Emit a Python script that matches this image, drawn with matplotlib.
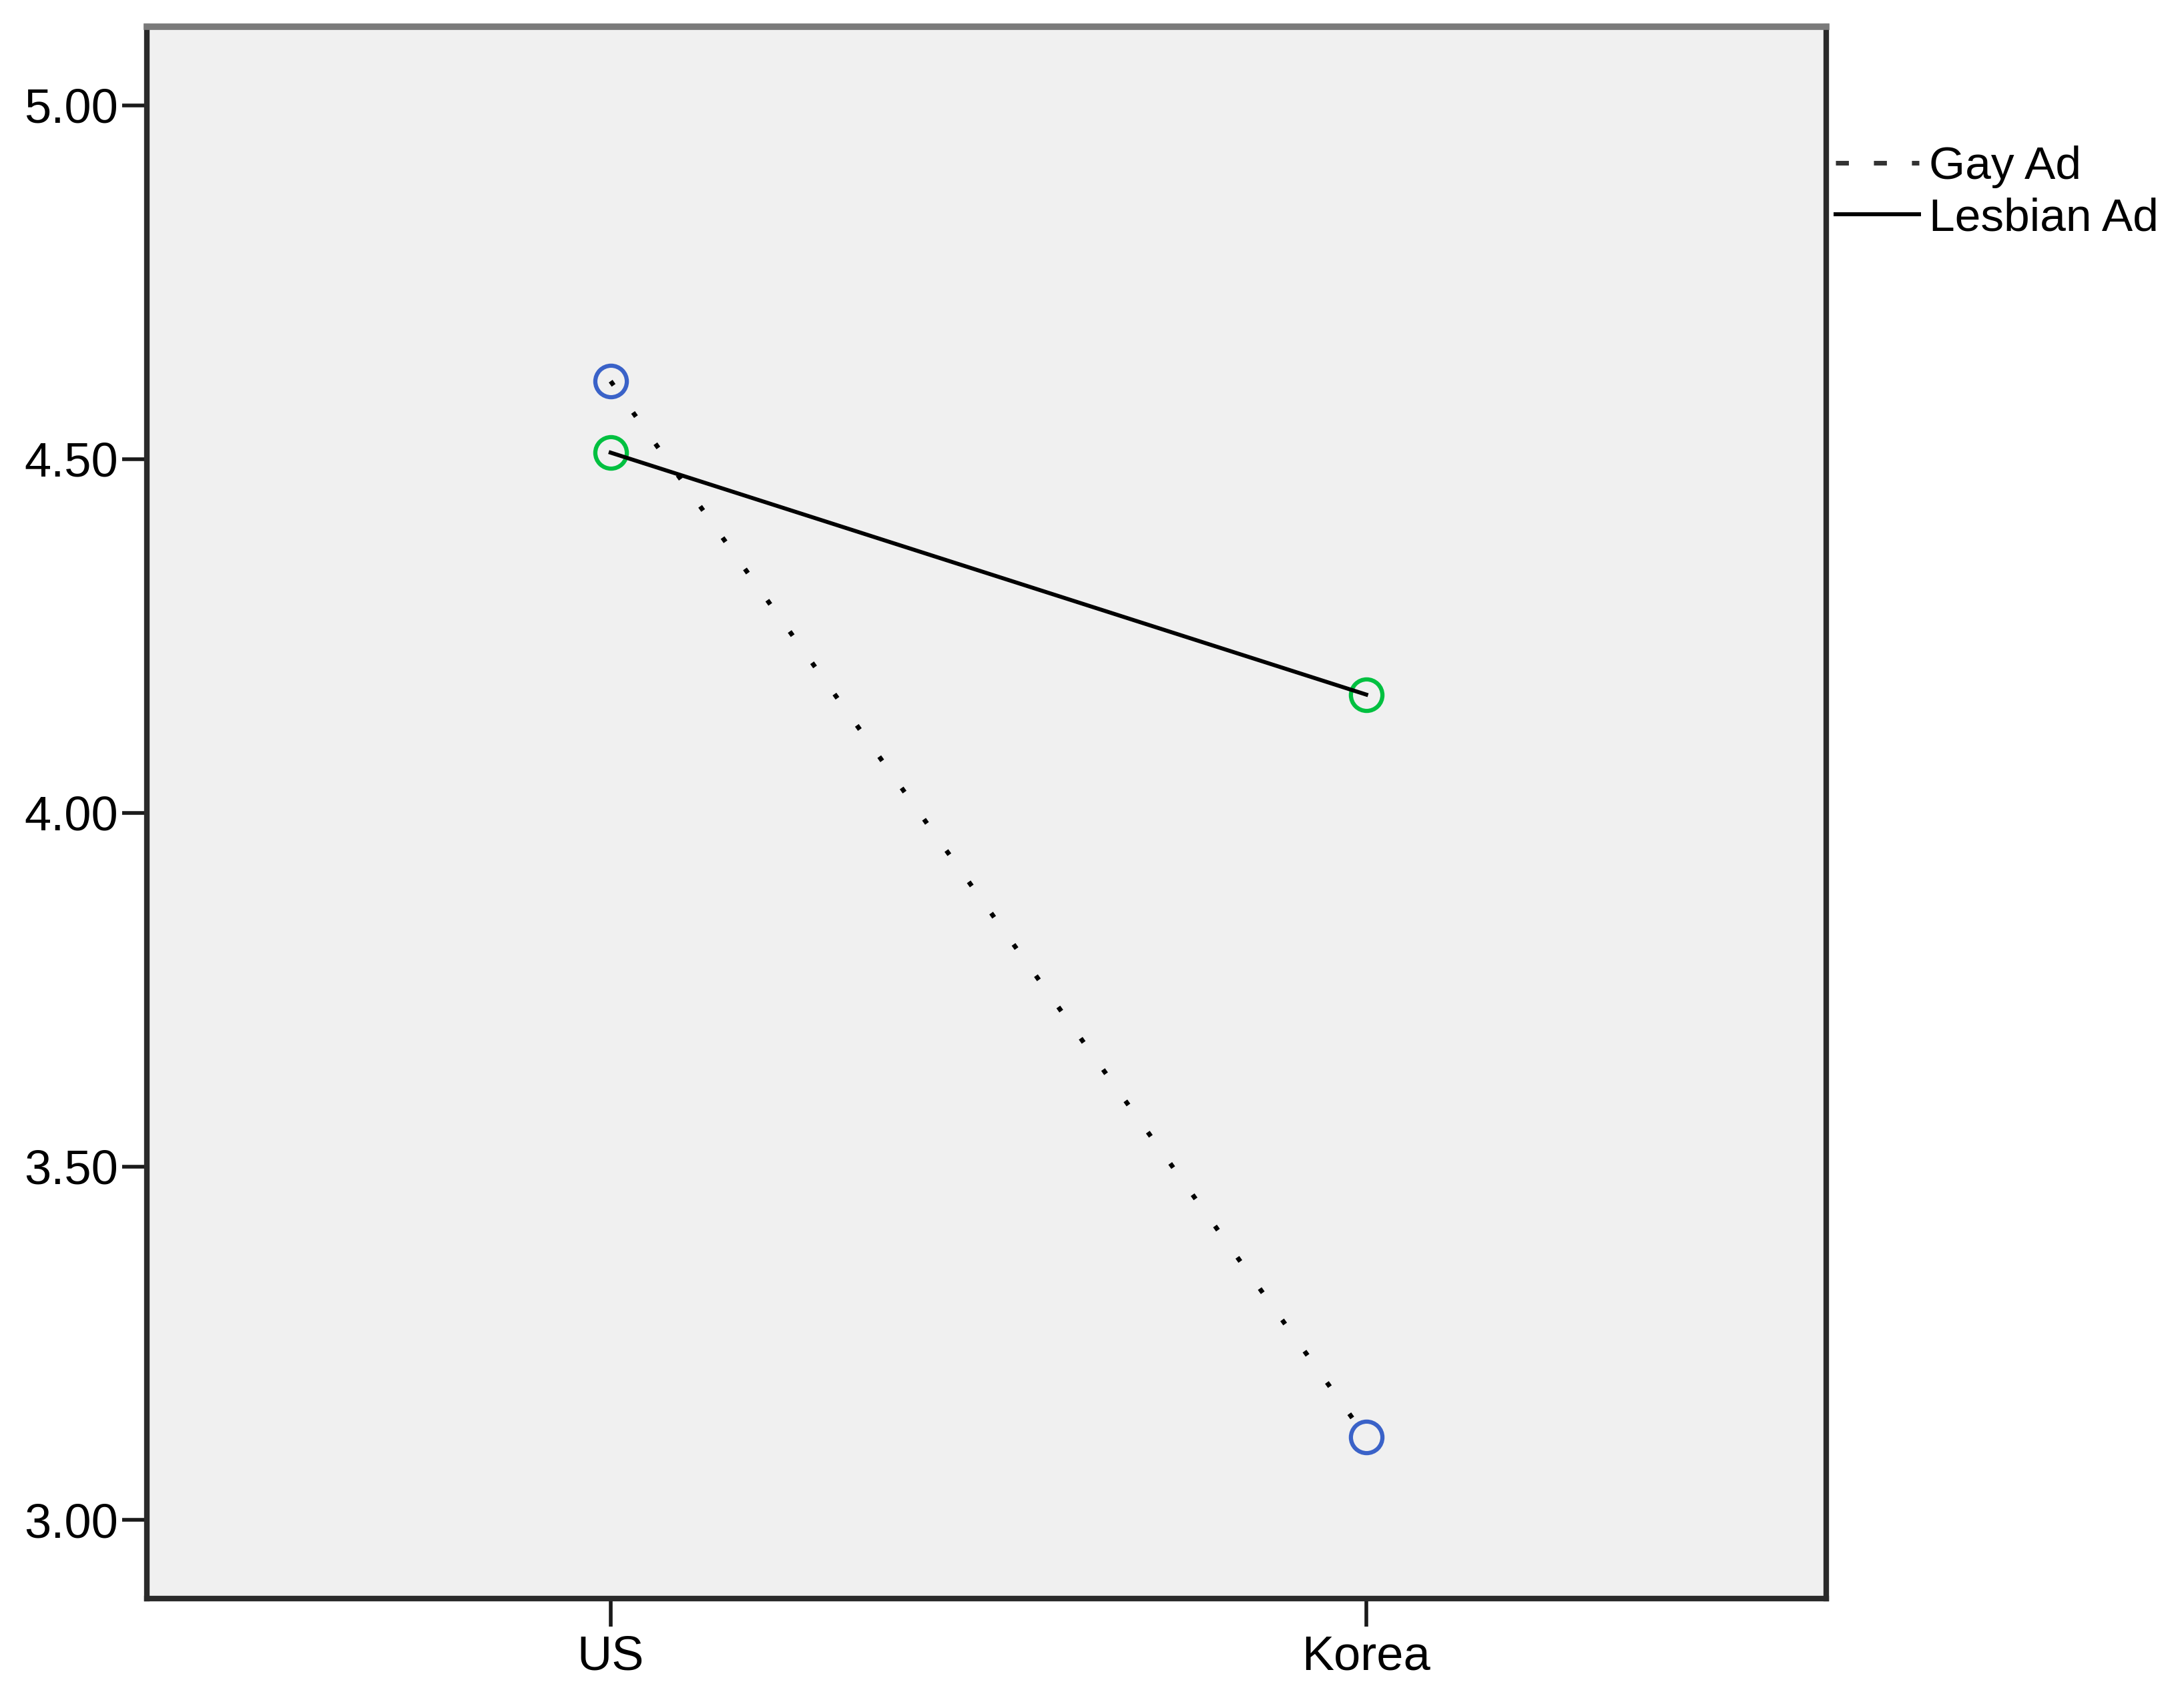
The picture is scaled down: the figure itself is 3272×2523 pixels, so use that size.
import matplotlib.pyplot as plt
from matplotlib.lines import Line2D
import numpy as np

# estimated marginal means
countries = ['US', 'Korea']
gay_ad = [4.610, 3.117]
lesbian_ad = [4.509, 4.167]
yticks = [3.00, 3.50, 4.00, 4.50, 5.00]

plt.rcParams['font.family'] = ['Liberation Sans', 'DejaVu Sans']
plt.rcParams['lines.scale_dashes'] = False

fig = plt.figure(figsize=(32.72, 25.23), dpi=100)
ax = fig.add_axes([0.0672, 0.0507, 0.769, 0.9334])
ax.set_facecolor('#f0f0f0')

x = np.arange(len(countries))
# hollow markers under the lines
ax.plot(x, gay_ad, ls='none', marker='o', ms=34, mfc='none', mec='#3a62c8', mew=4.5, zorder=2)
ax.plot(x, lesbian_ad, ls='none', marker='o', ms=34, mfc='none', mec='#00c040', mew=4.5, zorder=2)
ax.plot(x, gay_ad, color='black', lw=5, dashes=(5.5, 36), zorder=3)
ax.plot(x, lesbian_ad, color='black', lw=4.3, zorder=3)

ax.set_xlim(-0.614, 1.609)
ax.set_ylim(2.889, 5.111)
ax.set_xticks(x)
ax.set_xticklabels(countries)
ax.set_yticks(yticks)
ax.set_yticklabels(['%.2f' % v for v in yticks])
ax.tick_params(axis='both', direction='out', width=4, color='#1a1a1a', labelsize=52)
ax.tick_params(axis='x', length=30, pad=9)
ax.tick_params(axis='y', length=27, pad=4)

for side in ['left', 'right', 'bottom']:
    ax.spines[side].set_linewidth(6)
    ax.spines[side].set_color('#2a2a2a')
ax.spines['top'].set_linewidth(7)
ax.spines['top'].set_color('#7a7a7a')

# legend keys are drawn with a coarser dash, as in the original
handles = [Line2D([], [], color='#333333', lw=5, dashes=(14, 27)),
           Line2D([], [], color='black', lw=4.3)]
ax.legend(handles, ['Gay Ad', 'Lesbian Ad'], loc='upper left',
          bbox_to_anchor=(0.8405, 0.9135), bbox_transform=fig.transFigure,
          frameon=False, fontsize=50, handlelength=1.8, handletextpad=0.22,
          labelspacing=0.19, borderpad=0, borderaxespad=0)

fig.savefig('out.png', dpi=100)
